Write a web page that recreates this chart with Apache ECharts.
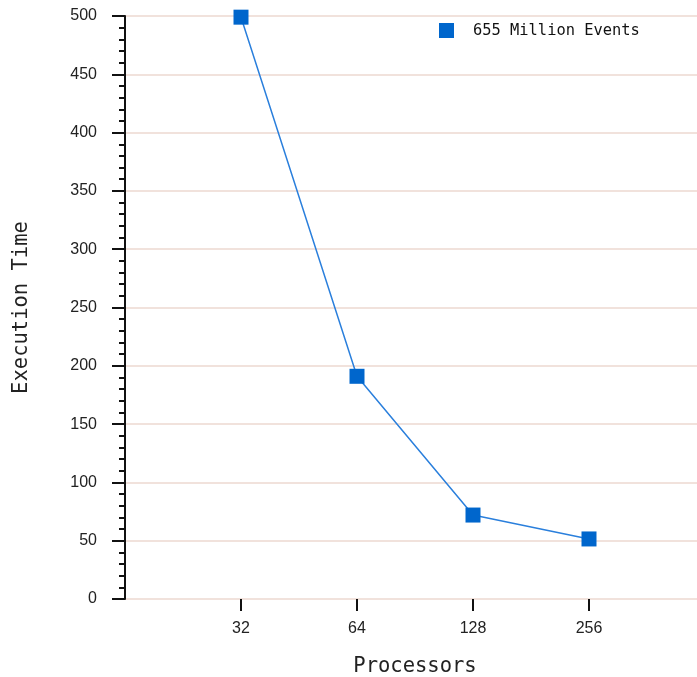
<!DOCTYPE html>
<html>
<head>
<meta charset="utf-8">
<script src="https://cdn.jsdelivr.net/npm/echarts@6/dist/echarts.min.js"></script>
<style>
html,body{margin:0;padding:0;background:#fff;overflow:hidden;width:697px;height:677px;}
#c{width:697px;height:677px;position:absolute;left:0;top:0;}
</style>
</head>
<body>
<div id="c"></div>
<script>
// Categories (outer empty slots pad the axis like the reference)
var processors = ['16', '32', '64', '128', '256', '512'];
var executionTime = [null, 499, 191, 72, 51.5, null];
var seriesName = '655 Million Events';
var yTicks = { min: 0, max: 500, interval: 50 };

var chart = echarts.init(document.getElementById('c'), null, { renderer: 'canvas', width: 697, height: 677 });
var shown = function (idx) { return idx > 0 && idx < processors.length - 1; };
chart.setOption({
  animation: false,
  backgroundColor: '#ffffff',
  grid: { left: 125, right: -8, top: 16, bottom: 78, containLabel: false, outerBoundsMode: 'none' },
  legend: {
    left: 439, top: 23, padding: 0,
    icon: 'rect', itemWidth: 15, itemHeight: 15,
    textStyle: { fontFamily: 'DejaVu Sans Mono', fontSize: 15.4, color: '#111', padding: [2, 0, 0, 14] },
    data: [seriesName]
  },
  xAxis: {
    type: 'category',
    data: processors,
    boundaryGap: false,
    name: 'Processors',
    nameLocation: 'middle',
    nameGap: 57,
    nameTextStyle: { fontFamily: 'DejaVu Sans Mono', fontSize: 20.5, color: '#222' },
    axisLine: { show: false },
    axisTick: { show: true, length: 12, interval: function (i) { return shown(i); }, lineStyle: { color: '#111', width: 2 } },
    axisLabel: { interval: function (i) { return shown(i); }, margin: 22, fontFamily: 'Liberation Sans', fontSize: 16, color: '#222' },
    splitLine: { show: false }
  },
  yAxis: {
    type: 'value',
    min: yTicks.min, max: yTicks.max, interval: yTicks.interval,
    name: 'Execution Time',
    nameLocation: 'middle',
    nameGap: 93,
    nameRotate: 90,
    nameTextStyle: { fontFamily: 'DejaVu Sans Mono', fontSize: 20.5, color: '#222' },
    axisLine: { show: true, lineStyle: { color: '#111', width: 2 } },
    axisTick: { show: true, length: 13, lineStyle: { color: '#111', width: 2 } },
    minorTick: { show: true, splitNumber: 5, length: 6, lineStyle: { color: '#111', width: 2 } },
    axisLabel: { margin: 28, fontFamily: 'Liberation Sans', fontSize: 16, color: '#222' },
    splitLine: { show: true, lineStyle: { color: '#ecd9d0', width: 1.5 } }
  },
  series: [{
    name: seriesName,
    type: 'line',
    data: executionTime,
    connectNulls: false,
    symbol: 'rect',
    symbolSize: 15,
    itemStyle: { color: '#0066cc' },
    lineStyle: { color: '#2a7fdc', width: 1.5 }
  }]
});
</script>
</body>
</html>
